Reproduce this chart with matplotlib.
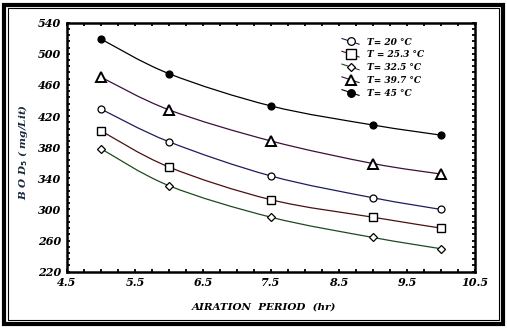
import numpy as np
import matplotlib
matplotlib.use("Agg")
import matplotlib.pyplot as plt
from matplotlib.path import Path
from matplotlib.patches import PathPatch, Rectangle
from matplotlib.lines import Line2D
from matplotlib.legend_handler import HandlerLine2D

# ---- data ----
aeration_hr = [5, 6, 7.5, 9, 10]
bod_20 = [429, 387, 343, 315, 300]
bod_25_3 = [401, 354.5, 312.5, 290, 276]
bod_32_5 = [378, 330.5, 290, 264, 249.5]
bod_39_7 = [470, 428, 388, 359, 345.5]
bod_45 = [519, 474.5, 433, 408.5, 395.5]
labels = ["T= 20 °C", "T = 25.3 °C", "T= 32.5 °C", "T= 39.7 °C", "T= 45 °C"]
x_ticks = [4.5, 5.5, 6.5, 7.5, 8.5, 9.5, 10.5]
y_ticks = [220, 260, 300, 340, 380, 420, 460, 500, 540]

series = [bod_20, bod_25_3, bod_32_5, bod_39_7, bod_45]
colors = ["#1c1c5e", "#4a1010", "#1e4a1e", "#3c0f3c", "#000000"]
markers = ["o", "s", "D", "^", "o"]
msizes = [5, 6, 4, 7, 5]
mfaces = ["white", "white", "white", "white", "black"]
mews = [0.9, 1.0, 0.9, 1.4, 0.9]

plt.rcParams['font.family'] = ['DejaVu Serif']
W, H = 507, 328
fig = plt.figure(figsize=(W / 100, H / 100), dpi=100)
ax = fig.add_axes([67 / W, 1 - 271.7 / H, (475 - 67) / W, (271.7 - 22.7) / H])


def smooth_path(x, y):
    x = np.asarray(x, float)
    y = np.asarray(y, float)
    n = len(x)
    verts = [(x[0], y[0])]
    codes = [Path.MOVETO]
    for i in range(n - 1):
        x0, y0 = (x[i - 1], y[i - 1]) if i > 0 else (x[i], y[i])
        x3, y3 = (x[i + 2], y[i + 2]) if i + 2 < n else (x[i + 1], y[i + 1])
        c1 = (x[i] + (x[i + 1] - x0) / 6, y[i] + (y[i + 1] - y0) / 6)
        c2 = (x[i + 1] - (x3 - x[i]) / 6, y[i + 1] - (y3 - y[i]) / 6)
        verts += [c1, c2, (x[i + 1], y[i + 1])]
        codes += [Path.CURVE4] * 3
    return Path(verts, codes)


class SlantHandler(HandlerLine2D):
    def create_artists(self, legend, orig_handle, xdescent, ydescent,
                       width, height, fontsize, trans):
        arts = super().create_artists(legend, orig_handle, xdescent, ydescent,
                                      width, height, fontsize, trans)
        ln = arts[0]
        yc = (height - ydescent) / 2
        d = height * 0.45
        n = len(ln.get_xdata())
        ln.set_ydata(np.linspace(yc + d, yc - d, n))
        return arts


handles = []
for ys, c, m, ms, mf, mw, lab in zip(series, colors, markers, msizes, mfaces, mews, labels):
    ax.add_patch(PathPatch(smooth_path(aeration_hr, ys), facecolor="none",
                           edgecolor=c, lw=0.9, zorder=2))
    ax.plot(aeration_hr, ys, linestyle="none", marker=m, ms=ms,
            mfc=mf, mec="black", mew=mw, zorder=3)
    handles.append(Line2D([], [], color=c, lw=0.8, marker=m, ms=ms + 0.5,
                          mfc=mf, mec="black", mew=mw, label=lab))

ax.set_xlim(4.5, 10.5)
ax.set_ylim(220, 540)
ax.set_xticks(x_ticks)
ax.set_xticklabels([f"{v:g}" for v in x_ticks])
ax.set_xticks(np.arange(4.5, 10.51, 0.25), minor=True)
ax.set_yticks(y_ticks)
ax.set_yticks(np.arange(220, 541, 8), minor=True)

for s in ax.spines.values():
    s.set_linewidth(1.8)
ax.tick_params(which="both", direction="in", top=True, right=True,
               length=2.5, width=1.3, labelsize=8)
for lab in ax.get_xticklabels() + ax.get_yticklabels():
    lab.set_fontweight("bold")
    lab.set_fontstyle("italic")
ax.tick_params(axis="x", pad=4)
ax.tick_params(axis="y", pad=4)

ax.set_xlabel("AIRATION  PERIOD  (hr)", fontsize=7.5, fontweight="bold",
              fontstyle="italic")
ax.xaxis.set_label_coords(0.483, -0.125)
ax.set_ylabel(r"B O D$_{\mathbf{5}}$ ( mg/Lit)", fontsize=7.5, fontweight="bold",
              fontstyle="italic", color="#16283c")
ax.yaxis.set_label_coords(-0.09, 0.48)

leg = ax.legend(handles=handles, loc="upper left", bbox_to_anchor=(0.665, 0.955),
                frameon=False, fontsize=6.5, handlelength=1.9, labelspacing=0.42,
                handletextpad=0.9, borderaxespad=0, numpoints=1,
                handler_map={Line2D: SlantHandler()})
for t in leg.get_texts():
    t.set_fontweight("bold")
    t.set_fontstyle("italic")

# figure border (thick outer + thin inner)
fig.patches.append(Rectangle((4 / W, 4 / H), (502.5 - 4) / W, (323 - 4) / H,
                             transform=fig.transFigure, fill=False,
                             edgecolor="black", lw=3.0))
fig.patches.append(Rectangle((7.5 / W, 8 / H), (498.5 - 7.5) / W, (320 - 7.5) / H,
                             transform=fig.transFigure, fill=False,
                             edgecolor="black", lw=0.8))

fig.savefig("out.png", dpi=100)
